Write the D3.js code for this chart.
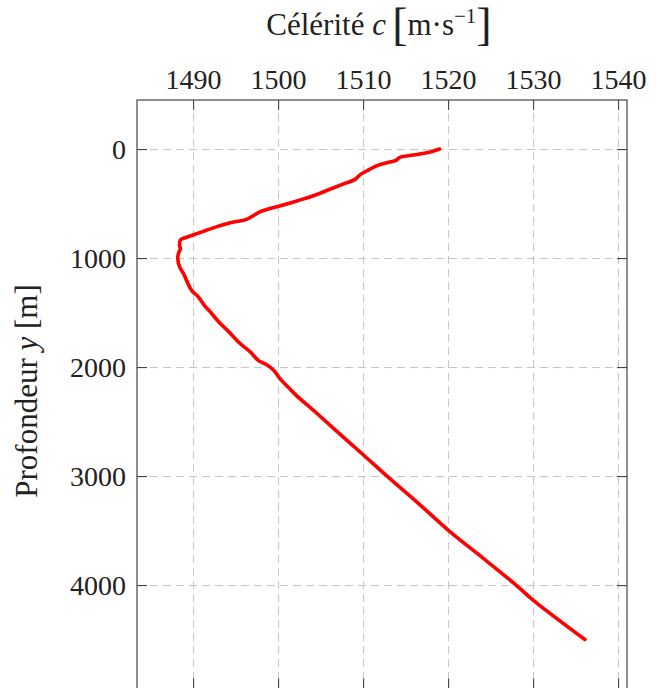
<!DOCTYPE html>
<html>
<head>
<meta charset="utf-8">
<script src="https://cdn.jsdelivr.net/npm/d3@7"></script>
<style>
  body { margin: 0; background: #fff; }
  svg text { font-family: "Liberation Serif", "Times New Roman", serif; fill: #222; }
</style>
</head>
<body>
<div id="chart"></div>
<script>
// Sound speed profile (depth in m, celerity in m/s)
var depth = [0, 27, 55, 76, 107, 125, 147, 193, 239, 278, 320, 369, 428, 476, 514, 545, 575, 645,
  676, 712, 755, 798, 835, 881, 917, 951, 1003, 1079, 1146, 1217, 1294, 1355, 1431, 1492, 1584,
  1676, 1782, 1859, 1941, 1982, 2028, 2104, 2186, 2257, 2410, 2578, 2807, 3003, 3257, 3495,
  3771, 4000, 4138, 4500];
var speed = [1519.0, 1517.9, 1515.9, 1514.35, 1513.8, 1512.8, 1511.8, 1510.6, 1509.6, 1509.06,
  1507.7, 1506.1, 1504.15, 1502.2, 1500.6, 1499.06, 1497.9, 1496.3, 1494.35, 1492.8, 1491.2,
  1489.65, 1488.5, 1488.4, 1488.5, 1488.3, 1488.2, 1488.4, 1488.9, 1489.3, 1489.8, 1490.6,
  1491.3, 1492.0, 1493.0, 1494.2, 1495.5, 1496.7, 1497.7, 1498.7, 1499.45, 1500.2, 1501.2,
  1502.1, 1504.35, 1506.75, 1510.05, 1512.85, 1516.6, 1520.0, 1524.4, 1528.0, 1530.0, 1536.1];
var xTicks = [1490, 1500, 1510, 1520, 1530, 1540];
var yTicks = [0, 1000, 2000, 3000, 4000];

var width = 662, height = 688,
    margin = { top: 100, right: 35, bottom: -0.6, left: 137 },
    w = width - margin.left - margin.right,
    h = height - margin.top - margin.bottom;

var svg = d3.select("#chart").append("svg")
    .attr("width", width)
    .attr("height", height);

var x = d3.scaleLinear().domain([1483.4, 1541.05]).range([0, w]);
var y = d3.scaleLinear().domain([-450, 4950]).range([0, h]);

var g = svg.append("g")
    .attr("transform", "translate(" + margin.left + "," + margin.top + ")");

// grid
g.append("g")
    .attr("class", "grid")
    .call(d3.axisTop(x).tickValues(xTicks).tickSize(-h).tickFormat(""));
g.append("g")
    .attr("class", "grid")
    .call(d3.axisLeft(y).tickValues(yTicks).tickSize(-w).tickFormat(""));
g.selectAll(".grid .domain").remove();
g.selectAll(".grid line")
    .attr("stroke", "#c4c4c4")
    .attr("stroke-width", 1)
    .attr("stroke-dasharray", "8,5");

// inward ticks + labels
var axTop = g.append("g").call(d3.axisTop(x).tickValues(xTicks).tickSize(-10).tickPadding(11).tickFormat(d3.format("d")));
var axLeft = g.append("g").call(d3.axisLeft(y).tickValues(yTicks).tickSize(-10).tickPadding(11).tickFormat(d3.format("d")));
var axRight = g.append("g").attr("transform", "translate(" + w + ",0)")
    .call(d3.axisRight(y).tickValues(yTicks).tickSize(-10).tickFormat(""));
var axBottom = g.append("g").attr("transform", "translate(0," + h + ")")
    .call(d3.axisBottom(x).tickValues(xTicks).tickSize(-10).tickFormat(""));
[axTop, axLeft, axRight, axBottom].forEach(function (a) {
    a.select(".domain").remove();
    a.selectAll("line").attr("stroke", "#444").attr("stroke-width", 1.1);
    a.selectAll("text").attr("font-size", 28).attr("fill", "#222")
        .style("font-family", "'Liberation Serif', serif");
});

// curve
var line = d3.line()
    .x(function (d, i) { return x(speed[i]); })
    .y(function (d) { return y(d); })
    .curve(d3.curveCatmullRom.alpha(0.5));

g.append("path")
    .datum(depth)
    .attr("fill", "none")
    .attr("stroke", "#ff0000")
    .attr("stroke-width", 3.6)
    .attr("stroke-linejoin", "round")
    .attr("stroke-linecap", "round")
    .attr("d", line);

// frame
g.append("rect")
    .attr("width", w).attr("height", h)
    .attr("fill", "none")
    .attr("stroke", "#444")
    .attr("stroke-width", 1.2);

// axis titles
var title = svg.append("text")
    .attr("x", 379)
    .attr("y", 35)
    .attr("text-anchor", "middle")
    .attr("font-size", 31);
title.append("tspan").text("Célérité ");
title.append("tspan").attr("font-style", "italic").text("c");
title.append("tspan").text("\u2009");
title.append("tspan").attr("font-size", 46).attr("dy", 5).text("[");
title.append("tspan").attr("dy", -5).text("m·s");
title.append("tspan").attr("font-size", 21).attr("dy", -12).text("−1");
title.append("tspan").attr("font-size", 46).attr("dy", 17).text("]");

var ylab = svg.append("text")
    .attr("transform", "translate(37," + (margin.top + 291) + ") rotate(-90)")
    .attr("text-anchor", "middle")
    .attr("font-size", 31);
ylab.append("tspan").text("Profondeur ");
ylab.append("tspan").attr("font-style", "italic").text("y");
ylab.append("tspan").text(" [m]");
</script>
</body>
</html>
